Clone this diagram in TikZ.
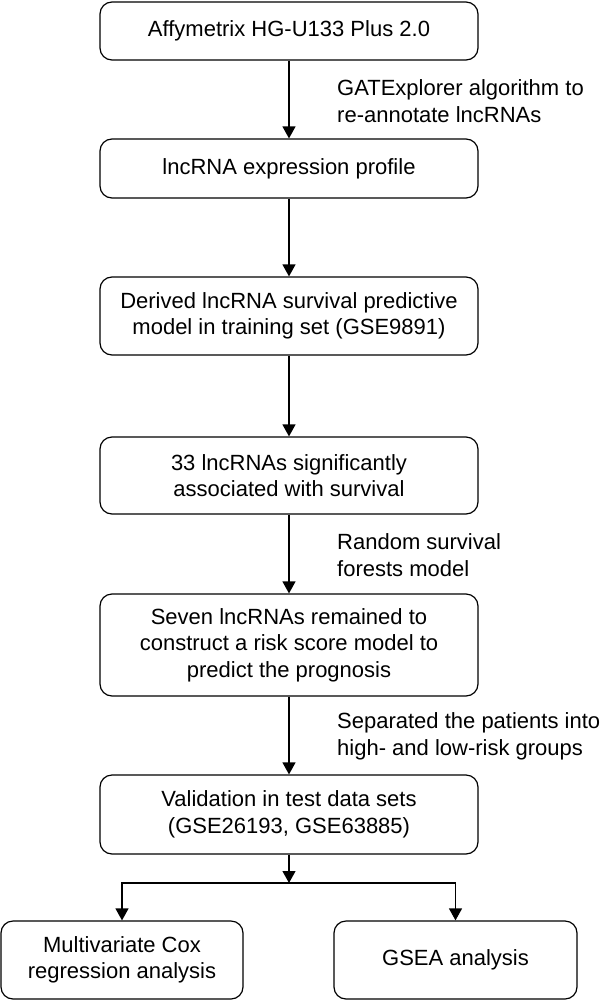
\documentclass[tikz,border=0pt]{standalone}
\usepackage{fontspec}
\setmainfont{Liberation Sans}
\usetikzlibrary{arrows.meta}

\begin{document}
\begin{tikzpicture}[x=1pt,y=-1pt,
  box/.style={draw, line width=1.2pt, rounded corners=12pt, align=center,
    minimum width=378pt, inner sep=0pt,
    font=\fontsize{22}{26.5}\selectfont},
  note/.style={anchor=west, align=left, inner sep=0pt,
    font=\fontsize{22}{26.5}\selectfont},
  flow/.style={line width=1.2pt, -{Triangle[length=12pt,width=13pt]}}]

  \useasboundingbox (0,0) rectangle (601,1001);

  % Main boxes
  \node[box, minimum height=58pt] (affy) at (289,31) {Affymetrix HG-U133 Plus 2.0};
  \node[box, minimum height=59pt] (profile) at (289,168.5) {lncRNA expression profile};
  \node[box, minimum height=78pt] (derived) at (289,316) {Derived lncRNA survival predictive\\model in training set (GSE9891)};
  \node[box, minimum height=77pt] (sig) at (289,475.5) {33 lncRNAs significantly\\associated with survival};
  \node[box, minimum height=102pt] (seven) at (289,645) {Seven lncRNAs remained to\\construct a risk score model to\\predict the prognosis};
  \node[box, minimum height=79pt] (valid) at (289,814.5) {Validation in test data sets\\(GSE26193, GSE63885)};

  % Bottom boxes
  \node[box, minimum width=242pt, minimum height=78pt] (cox) at (122,960) {Multivariate Cox\\regression analysis};
  \node[box, minimum width=243pt, minimum height=78pt] (gsea) at (455.5,960) {GSEA analysis};

  % Step notes
  \node[note] (gat) at (337,101) {GATExplorer algorithm to\\re-annotate lncRNAs};
  \node[note] (rsf) at (337,555) {Random survival\\forests model};
  \node[note] (sep) at (337,736.5) {Separated the patients into\\high- and low-risk groups};

  % Arrows
  \draw[flow] (affy) -- (profile);
  \draw[flow] (profile) -- (derived);
  \draw[flow] (derived) -- (sig);
  \draw[flow] (sig) -- (seven);
  \draw[flow] (seven) -- (valid);

  % Split
  \coordinate (split) at (289,883);
  \draw[flow] (valid) -- (split);
  \draw[flow] (split) -| (cox);
  \draw[flow] (split) -| (gsea);

\end{tikzpicture}
\end{document}
